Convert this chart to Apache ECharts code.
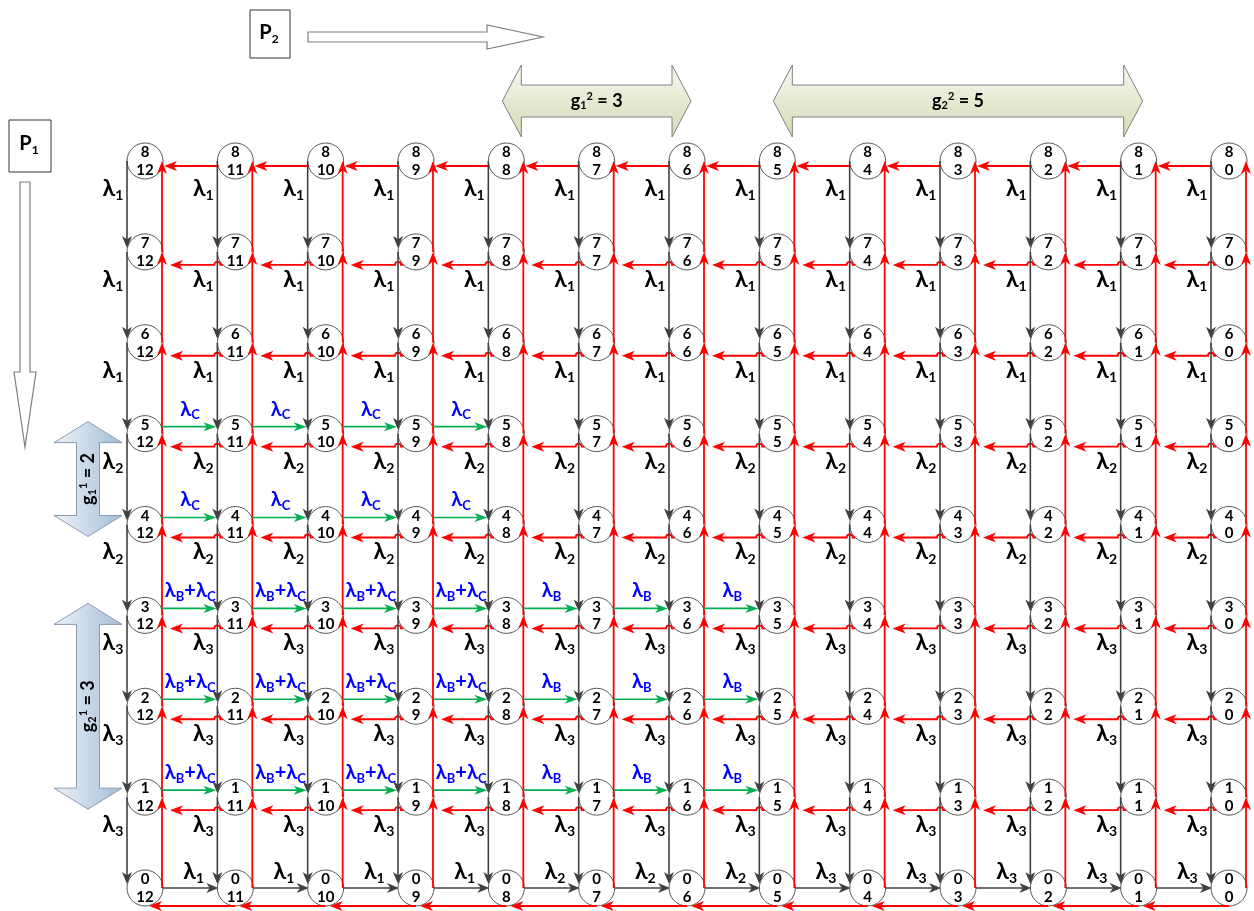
<!DOCTYPE html>
<html><head><meta charset="utf-8">
<script src="https://cdn.jsdelivr.net/npm/echarts@6/dist/echarts.min.js"></script>
<style>html,body{margin:0;padding:0;background:#fff}#c{width:1254px;height:911px}</style>
</head><body><div id="c"></div>
<script>
// ---------- data ----------
const p1Levels = [8,7,6,5,4,3,2,1,0];                 // rows (top to bottom)
const p2Levels = [12,11,10,9,8,7,6,5,4,3,2,1,0];      // columns (left to right)
// downward (P1 -> P1-1) transitions: rate subscript by starting level
const downFrom = [8,7,6,5,4,3,2,1];
const downRate = ['1','1','1','2','2','3','3','3'];
// bottom row (P1 = 0) rightward transitions (P2 -> P2-1)
const bottomFrom = [12,11,10,9,8,7,6,5,4,3,2,1];
const bottomRate = ['1','1','1','1','2','2','2','3','3','3','3','3'];
// class C arrivals (green): rows and starting columns
const cRows = [5,4,3,2,1];
const cFrom = [12,11,10,9];
// class B arrivals (green): rows and starting columns
const bRows = [3,2,1];
const bFrom = [12,11,10,9,8,7,6];
// group brackets
const topGroupFrom = [8,5];
const topGroupTo = [6,1];
const topGroupSub = ['1','2'];
const topGroupVal = ['3','5'];
const leftGroupFrom = [5,3];
const leftGroupTo = [4,1];
const leftGroupSub = ['1','2'];
const leftGroupVal = ['2','3'];

// ---------- styles ----------
const F = 'Lato, "Noto Sans", "DejaVu Sans", sans-serif';
const BLACK = '#404040', RED = '#ff0000', GREEN = '#00b050', BLUE = '#0000ff';
const R = 18;

function seg(a,b,color,w){return {type:'line',shape:{x1:a[0],y1:a[1],x2:b[0],y2:b[1]},style:{stroke:color,lineWidth:w||1.5}};}
function head(tip,dx,dy,color,len,wid){
  len=len||11; wid=wid||9;
  const bx=tip[0]-dx*len, by=tip[1]-dy*len;
  const nx=tip[0]-dx*len*0.72, ny=tip[1]-dy*len*0.72;
  const px=-dy*wid/2, py=dx*wid/2;
  return {type:'polygon',shape:{points:[[tip[0],tip[1]],[bx+px,by+py],[nx,ny],[bx-px,by-py]]},style:{fill:color}};
}
function lamRich(color,size,sub){
  size=size||23; sub=sub||14;
  return {
    l:{fontFamily:F,fontWeight:'bold',fontSize:size,lineHeight:size+2,padding:[0,0,3,0],fill:color,color:color},
    s:{fontFamily:F,fontWeight:'bold',fontSize:sub,lineHeight:sub,verticalAlign:'bottom',fill:color,color:color}
  };
}
function label(x,y,text,rich,rot){
  const el={type:'text',x:x,y:y,style:{text:text,rich:rich,align:'center',verticalAlign:'middle',fill:'#000'}};
  if(rot) el.rotation=rot;
  return el;
}

// ---------- data items ----------
const nodeData = [];
p1Levels.forEach(p1=>p2Levels.forEach(p2=>nodeData.push([p2,p1])));
const downData = [];
p2Levels.forEach(p2=>downFrom.forEach((p1,i)=>downData.push([p2,p1,i])));
const upData = [];
p2Levels.forEach(p2=>p1Levels.filter(p=>p<p1Levels[0]).forEach(p1=>upData.push([p2,p1])));
const leftData = [];
p1Levels.filter(p=>p>0).forEach(p1=>p2Levels.filter(p=>p<p2Levels[0]).forEach(p2=>leftData.push([p2,p1])));
const bottomRedData = p2Levels.filter(p=>p<p2Levels[0]).map(p2=>[p2,0]);
const bottomBlackData = bottomFrom.map((p2,i)=>[p2,0,i]);
const greenData = [];
cRows.concat(bRows.filter(r=>cRows.indexOf(r)<0)).forEach(p1=>{
  bFrom.concat(cFrom.filter(c=>bFrom.indexOf(c)<0)).forEach(p2=>{
    const hasC = cRows.indexOf(p1)>=0 && cFrom.indexOf(p2)>=0;
    const hasB = bRows.indexOf(p1)>=0 && bFrom.indexOf(p2)>=0;
    if(hasB||hasC) greenData.push([p2,p1,(hasB?1:0)+(hasC?2:0)]);
  });
});
const topGroupData = topGroupFrom.map((f,i)=>[f,topGroupTo[i],i]);
const leftGroupData = leftGroupFrom.map((f,i)=>[f,leftGroupTo[i],i]);

const gRich = {
  t:{fontFamily:F,fontWeight:'bold',fontSize:18,lineHeight:20,padding:[4,0,4,0],fill:'#000'},
  b:{fontFamily:F,fontWeight:'bold',fontSize:11,lineHeight:12,verticalAlign:'bottom',fill:'#000'},
  p:{fontFamily:F,fontWeight:'bold',fontSize:11,lineHeight:12,verticalAlign:'top',fill:'#000'}
};

const series = [
  { // nodes
    type:'custom', z:1, clip:false, data:nodeData,
    renderItem(params,api){
      const c=api.coord([api.value(0),api.value(1)]);
      return {type:'group',children:[
        {type:'circle',shape:{cx:c[0],cy:c[1],r:R},style:{fill:'#fff',stroke:'#595959',lineWidth:1}},
        {type:'text',x:c[0],y:c[1]-8.5,style:{text:String(api.value(1)),font:'bold 15px '+F,fill:'#000',align:'center',verticalAlign:'middle'}},
        {type:'text',x:c[0],y:c[1]+9,style:{text:String(api.value(0)),font:'bold 15px '+F,fill:'#000',align:'center',verticalAlign:'middle'}}
      ]};
    }
  },
  { // black downward arrows (P1 decreases)
    type:'custom', z:3, clip:false, data:downData,
    renderItem(params,api){
      const p2=api.value(0),p1=api.value(1),i=api.value(2);
      const a=api.coord([p2,p1]), b=api.coord([p2,p1-1]);
      const x=a[0]-R, tip=[x,b[1]-4];
      return {type:'group',children:[
        seg([x,a[1]],[x,tip[1]-5],BLACK,1.6),
        head(tip,0,1,BLACK,12,10),
        label(a[0]-32,a[1]+29,'{l|λ}{s|'+downRate[i]+'}',lamRich('#000'))
      ]};
    }
  },
  { // red upward arrows
    type:'custom', z:2, clip:false, data:upData,
    renderItem(params,api){
      const p2=api.value(0),p1=api.value(1);
      const a=api.coord([p2,p1]), b=api.coord([p2,p1+1]);
      const x=a[0]+17;
      return {type:'group',children:[
        seg([x,a[1]],[x,b[1]+6],RED,1.8),
        head([x,b[1]],0,-1,RED,13,10)
      ]};
    }
  },
  { // red leftward arrows (rows 1..8)
    type:'custom', z:2, clip:false, data:leftData,
    renderItem(params,api){
      const p2=api.value(0),p1=api.value(1);
      const a=api.coord([p2,p1]), b=api.coord([p2+1,p1]);
      if(p1===p1Levels[0]){
        const y=a[1]+5, tip=[b[0]+19,y];
        return {type:'group',children:[seg([a[0]-17,y],[tip[0]+6,y],RED,1.8),head(tip,-1,0,RED,13,10)]};
      }
      const y=a[1]+13, sx=a[0]-12.4, hx=a[0]-R, tip=[b[0]+25,y];
      return {type:'group',children:[
        {type:'path',shape:{pathData:'M'+sx+' '+y+' L'+(hx+3)+' '+y+' A3 3 0 0 0 '+(hx-3)+' '+y+' L'+(tip[0]+6)+' '+y},style:{stroke:RED,lineWidth:1.8,fill:null}},
        head(tip,-1,0,RED,13,10)
      ]};
    }
  },
  { // red bottom return line
    type:'custom', z:2, clip:false, data:bottomRedData,
    renderItem(params,api){
      const p2=api.value(0);
      const a=api.coord([p2,0]), b=api.coord([p2+1,0]);
      const y=a[1]+R, tip=[b[0]+4,y];
      return {type:'group',children:[seg([a[0],y],[tip[0]+6,y],RED,1.8),head(tip,-1,0,RED,13,10)]};
    }
  },
  { // black bottom rightward arrows
    type:'custom', z:3, clip:false, data:bottomBlackData,
    renderItem(params,api){
      const p2=api.value(0), i=api.value(2);
      const a=api.coord([p2,0]), b=api.coord([p2-1,0]);
      const y=a[1], s=[a[0]+R,y], tip=[b[0]-R+1,y];
      return {type:'group',children:[
        seg(s,[tip[0]-5,y],BLACK,1.6),
        head(tip,1,0,BLACK,12,10),
        label((s[0]+tip[0])/2+3,y-15,'{l|λ}{s|'+bottomRate[i]+'}',lamRich('#000'))
      ]};
    }
  },
  { // green arrivals
    type:'custom', z:3, clip:false, data:greenData,
    renderItem(params,api){
      const p2=api.value(0),p1=api.value(1),k=api.value(2);
      const a=api.coord([p2,p1]), b=api.coord([p2-1,p1]);
      const y=a[1]-7, s=[a[0]+17,y], tip=[b[0]-19,y];
      let t = k===3 ? '{l|λ}{s|B}{l|+λ}{s|C}' : (k===1 ? '{l|λ}{s|B}' : '{l|λ}{s|C}');
      return {type:'group',children:[
        seg(s,[tip[0]-5,y],GREEN,1.7),
        head(tip,1,0,GREEN,13,9),
        label((s[0]+tip[0])/2+1,a[1]-23,t,lamRich(BLUE,20,13))
      ]};
    }
  },
  { // top group brackets
    type:'custom', z:1, clip:false, data:topGroupData,
    renderItem(params,api){
      const i=api.value(2);
      const a=api.coord([api.value(0),p1Levels[0]]), b=api.coord([api.value(1),p1Levels[0]]);
      const x1=a[0]-4, x2=b[0]+4, cy=a[1]-60, hl=19, hh=36, sh=16;
      const pts=[[x1,cy],[x1+hl,cy-hh],[x1+hl,cy-sh],[x2-hl,cy-sh],[x2-hl,cy-hh],[x2,cy],[x2-hl,cy+hh],[x2-hl,cy+sh],[x1+hl,cy+sh],[x1+hl,cy+hh]];
      return {type:'group',children:[
        {type:'polygon',shape:{points:pts},style:{stroke:'#808080',lineWidth:1,
          fill:{type:'linear',x:0,y:0,x2:0,y2:1,colorStops:[{offset:0,color:'#f6f8ef'},{offset:1,color:'#d3dbb6'}]}}},
        label((x1+x2)/2,cy,'{t|g}{b|'+topGroupSub[i]+'}{p|2}{t| = '+topGroupVal[i]+'}',gRich)
      ]};
    }
  },
  { // left group brackets
    type:'custom', z:1, clip:false, data:leftGroupData,
    renderItem(params,api){
      const i=api.value(2);
      const a=api.coord([p2Levels[0],api.value(0)]), b=api.coord([p2Levels[0],api.value(1)]);
      const y1=a[1]-12, y2=b[1]+12, cx=a[0]-57, hl=21, hw=34, sw=11.5;
      const pts=[[cx,y1],[cx+hw,y1+hl],[cx+sw,y1+hl],[cx+sw,y2-hl],[cx+hw,y2-hl],[cx,y2],[cx-hw,y2-hl],[cx-sw,y2-hl],[cx-sw,y1+hl],[cx-hw,y1+hl]];
      return {type:'group',children:[
        {type:'polygon',shape:{points:pts},style:{stroke:'#8a9bb0',lineWidth:1,
          fill:{type:'linear',x:0,y:0,x2:1,y2:0,colorStops:[{offset:0,color:'#eef3f9'},{offset:1,color:'#a3bcd6'}]}}},
        label(cx,(y1+y2)/2,'{t|g}{b|'+leftGroupSub[i]+'}{p|1}{t| = '+leftGroupVal[i]+'}',gRich,Math.PI/2)
      ]};
    }
  }
];

const pRich = {
  t:{fontFamily:F,fontWeight:'bold',fontSize:20,lineHeight:22,padding:[0,0,3,0],fill:'#000'},
  s:{fontFamily:F,fontWeight:'bold',fontSize:12,lineHeight:12,verticalAlign:'bottom',fill:'#000'}
};
const graphic = [
  {type:'rect',shape:{x:250,y:10,width:40,height:48},style:{fill:'#fff',stroke:'#333',lineWidth:1}},
  {type:'text',x:269,y:34,style:{text:'{t|P}{s|2}',rich:pRich,align:'center',verticalAlign:'middle'}},
  {type:'polygon',shape:{points:[[308,32],[487,32],[487,25],[543,37],[487,49],[487,42],[308,42]]},style:{fill:'#fff',stroke:'#7f7f7f',lineWidth:1.2}},
  {type:'rect',shape:{x:9,y:120,width:42,height:52},style:{fill:'#fff',stroke:'#333',lineWidth:1}},
  {type:'text',x:29,y:145,style:{text:'{t|P}{s|1}',rich:pRich,align:'center',verticalAlign:'middle'}},
  {type:'polygon',shape:{points:[[20,182],[30,182],[30,372],[36,372],[25,447],[14,372],[20,372]]},style:{fill:'#fff',stroke:'#7f7f7f',lineWidth:1.2}}
];

const chart = echarts.init(document.getElementById('c'));
chart.setOption({
  animation:false,
  backgroundColor:'#fff',
  grid:{left:145,right:25,top:161,bottom:23},
  xAxis:{type:'value',min:0,max:12,inverse:true,show:false},
  yAxis:{type:'value',min:0,max:8,show:false},
  graphic:graphic,
  series:series
});
</script></body></html>
